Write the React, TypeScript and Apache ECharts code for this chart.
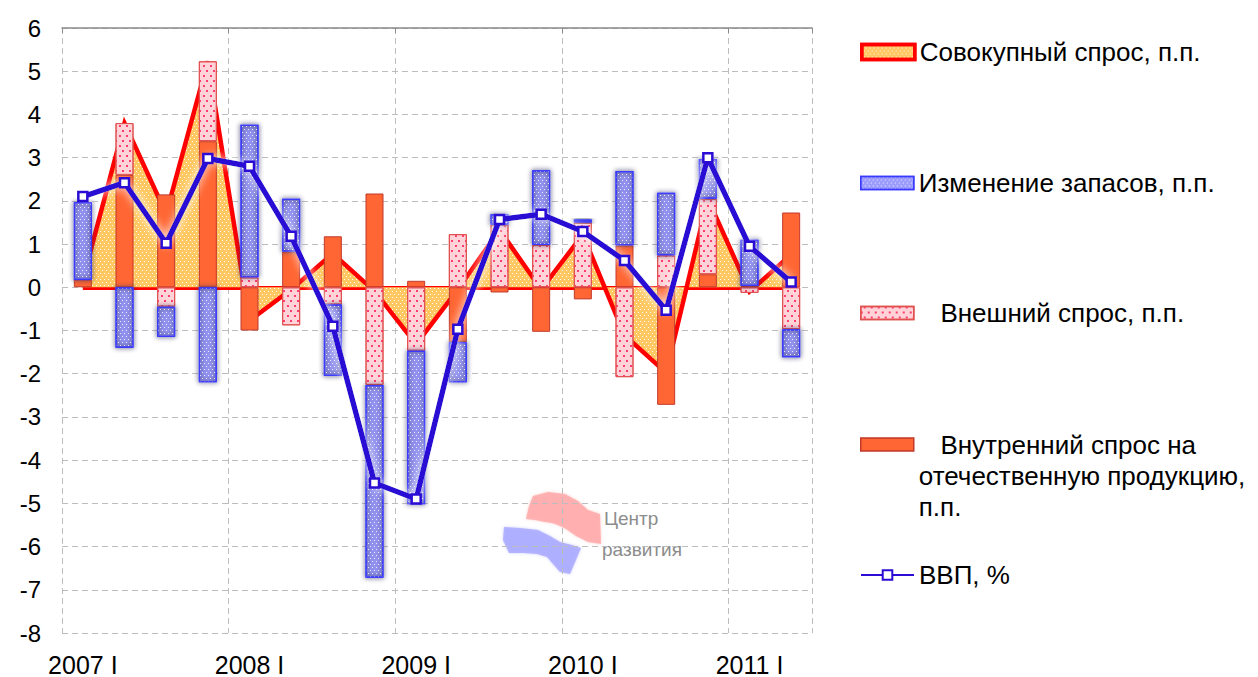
import React, { useEffect, useRef } from 'react';
import * as echarts from 'echarts';

const categories = [
  '2007 I', '2007 II', '2007 III', '2007 IV',
  '2008 I', '2008 II', '2008 III', '2008 IV',
  '2009 I', '2009 II', '2009 III', '2009 IV',
  '2010 I', '2010 II', '2010 III', '2010 IV',
  '2011 I', '2011 II',
];

const aggregateDemand = [0.17, 3.8, 1.7, 5.23, -0.77, -0.05, 0.78, -0.09, -1.32, -0.05, 1.33, -0.05, 1.22, -1.11, -1.98, 2.05, -0.1, 0.76];
const domesticDemand = [0.17, 2.6, 2.15, 3.38, -1.0, 0.83, 1.18, 2.17, 0.15, -1.27, -0.12, -1.03, -0.28, 0.97, -2.72, 0.3, 0.03, 1.73];
const externalDemand = [0, 1.2, -0.45, 1.85, 0.23, -0.88, -0.4, -2.26, -1.47, 1.23, 1.45, 0.98, 1.5, -2.08, 0.74, 1.75, -0.13, -0.97];
const inventoryChange = [1.8, -1.4, -0.7, -2.2, 3.53, 1.22, -1.65, -4.46, -3.55, -0.93, 0.24, 1.73, 0.07, 1.72, 1.45, 0.92, 1.07, -0.65];
const gdp = [2.1, 2.42, 1.02, 2.98, 2.8, 1.18, -0.9, -4.53, -4.9, -0.97, 1.57, 1.69, 1.29, 0.62, -0.53, 3.0, 0.95, 0.12];

const yTicks = { min: -8, max: 6, interval: 1 };

const S_AGG = 'Совокупный спрос, п.п.';
const S_INV = 'Изменение запасов, п.п.';
const S_EXT = 'Внешний спрос, п.п.';
const S_DOM = 'Внутренний спрос на отечественную продукцию, п.п.';
const S_GDP = 'ВВП, %';

const FONT = '"Liberation Sans", Arial, sans-serif';

const areaDecal = {
  symbol: 'rect',
  symbolSize: 1,
  color: 'rgba(255,255,255,0.9)',
  dashArrayX: [[1, 3], [0, 2, 1, 1]],
  dashArrayY: [1, 2],
};
const blueDecal = {
  symbol: 'rect',
  symbolSize: 1,
  color: 'rgba(255,255,255,0.8)',
  dashArrayX: [[1, 3], [0, 2, 1, 1]],
  dashArrayY: [1, 2],
};
const pinkDecal = {
  symbol: 'rect',
  symbolSize: 1,
  color: '#FF3D6E',
  dashArrayX: [[1.2, 4.5], [0, 2.8, 1.2, 1.7]],
  dashArrayY: [1.2, 3],
};

const AREA_FILL = '#FFC862';
const BLUE_FILL = '#9C9CFF';
const BLUE_BORDER = '#3A3AFF';
const PINK_FILL = '#FFD3D8';
const PINK_BORDER = '#E0504F';
const ORANGE_FILL = '#FF6633';
const ORANGE_BORDER = '#C0392B';
const GDP_COLOR = '#2A0CD4';

export default function App() {
  const ref = useRef<HTMLDivElement>(null);

  useEffect(() => {
    if (!ref.current) return;
    const chart = echarts.init(ref.current, null, { renderer: 'svg' });

    const legendBase = {
      left: 860,
      orient: 'vertical',
      padding: 0,
      itemWidth: 53,
      itemHeight: 14,
      selectedMode: false,
      textStyle: { fontSize: 26, color: '#000', fontFamily: FONT, lineHeight: 32 },
    };

    const option: any = {
      animation: false,
      backgroundColor: '#fff',
      grid: { left: 62, right: 446, top: 28, bottom: 44 },
      legend: [
        {
          ...legendBase,
          top: 36,
          data: [S_AGG],
          icon: 'rect',
          itemHeight: 15,
          itemStyle: { color: AREA_FILL, borderColor: '#FF0000', borderWidth: 3.5 },
        },
        {
          ...legendBase,
          top: 167,
          data: [S_INV],
          icon: 'rect',
          itemHeight: 13,
          itemStyle: { color: BLUE_FILL, borderColor: BLUE_BORDER, borderWidth: 1.5 },
        },
        {
          ...legendBase,
          top: 297,
          data: [S_EXT],
          icon: 'rect',
          itemHeight: 13,
          formatter: (n: string) => '   ' + n,
          itemStyle: { color: PINK_FILL, borderColor: PINK_BORDER, borderWidth: 1.5 },
        },
        {
          ...legendBase,
          top: 367,
          data: [S_DOM],
          icon: 'rect',
          itemHeight: 13,
          formatter: () => '\n\n   Внутренний спрос на\nотечественную продукцию,\nп.п.',
          textStyle: { ...legendBase.textStyle, lineHeight: 31 },
          itemStyle: { color: ORANGE_FILL, borderColor: ORANGE_BORDER, borderWidth: 1.5 },
        },
        {
          ...legendBase,
          top: 559,
          data: [S_GDP],
          itemHeight: 12,
        },
      ],
      xAxis: [
        {
          type: 'category',
          data: categories,
          position: 'bottom',
          boundaryGap: true,
          axisLine: { show: false },
          axisTick: { show: false },
          axisLabel: { interval: 3, fontSize: 25, color: '#000', fontFamily: FONT, margin: 19 },
          splitLine: { show: true, interval: 3, lineStyle: { type: [6, 4], color: '#BDBDBD', width: 1 } },
        },
        {
          type: 'category',
          data: categories,
          position: 'top',
          boundaryGap: true,
          axisLine: { show: true, onZero: true, lineStyle: { color: '#8A8A8A', width: 1.5 } },
          axisTick: { show: true, interval: 3, inside: true, length: 5, lineStyle: { color: '#8A8A8A' } },
          axisLabel: { show: false },
          splitLine: { show: false },
        },
      ],
      yAxis: {
        type: 'value',
        min: yTicks.min,
        max: yTicks.max,
        interval: yTicks.interval,
        axisLine: { show: false },
        axisTick: { show: false },
        axisLabel: { fontSize: 24, color: '#000', fontFamily: FONT, margin: 21 },
        splitLine: { show: true, lineStyle: { type: [6, 4], color: '#BDBDBD', width: 1 } },
      },
      series: [
        {
          name: S_AGG,
          type: 'line',
          data: aggregateDemand,
          xAxisIndex: 0,
          symbol: 'none',
          showSymbol: false,
          z: 1,
          lineStyle: { color: '#FF0000', width: 4.5, join: 'miter' },
          itemStyle: { color: AREA_FILL, decal: areaDecal },
          areaStyle: { color: AREA_FILL, opacity: 1 },
          markLine: {
            silent: true,
            z: 1,
            symbol: 'none',
            label: { show: false },
            lineStyle: { color: '#FF0000', width: 4, type: 'solid' },
            data: [[
              { coord: [categories[0], 0] },
              { coord: [categories[categories.length - 1], 0] },
            ]],
          },
        },
        {
          name: S_DOM,
          type: 'bar',
          stack: 'contrib',
          data: domesticDemand,
          barWidth: 18,
          z: 2,
          itemStyle: { color: ORANGE_FILL, borderColor: ORANGE_BORDER, borderWidth: 1 },
        },
        {
          name: S_EXT,
          type: 'bar',
          stack: 'contrib',
          data: externalDemand,
          barWidth: 18,
          z: 2,
          itemStyle: { color: PINK_FILL, borderColor: PINK_BORDER, borderWidth: 1, decal: pinkDecal },
        },
        {
          name: S_INV,
          type: 'bar',
          stack: 'contrib',
          data: inventoryChange,
          barWidth: 18,
          z: 2,
          itemStyle: {
            color: BLUE_FILL,
            borderColor: BLUE_BORDER,
            borderWidth: 1.2,
            decal: blueDecal,
            shadowColor: 'rgba(140,140,255,0.45)',
            shadowBlur: 5,
          },
        },
        {
          name: S_GDP,
          type: 'line',
          data: gdp,
          z: 3,
          symbol: 'rect',
          symbolSize: 9,
          showSymbol: true,
          lineStyle: { color: GDP_COLOR, width: 5.5, shadowColor: 'rgba(255,255,255,1)', shadowBlur: 10 },
          itemStyle: { color: '#FFFFFF', borderColor: GDP_COLOR, borderWidth: 2.5 },
        },
      ],
      graphic: [
        {
          type: 'polygon',
          silent: true,
          z: 0,
          shape: {
            points: [
              [533, 496], [548, 492], [565, 494], [578, 501], [588, 510], [600, 514],
              [601, 544], [588, 542], [576, 536], [566, 529], [558, 525], [552, 523],
              [545, 522], [535, 520], [526, 519], [529, 506],
            ],
          },
          style: { fill: '#FFA8A8', opacity: 0.8, shadowColor: 'rgba(255,150,150,0.6)', shadowBlur: 3 },
        },
        {
          type: 'polygon',
          silent: true,
          z: 0,
          shape: {
            points: [
              [504, 527], [520, 528], [538, 530], [550, 536], [560, 542], [572, 545],
              [581, 548], [576, 560], [570, 574], [560, 572], [553, 564], [547, 557],
              [537, 554], [524, 553], [509, 553], [503, 540],
            ],
          },
          style: { fill: '#A8A8FF', opacity: 0.8, shadowColor: 'rgba(150,150,255,0.6)', shadowBlur: 3 },
        },
        {
          type: 'text',
          silent: true,
          z: 0,
          left: 604,
          top: 509,
          style: { text: 'Центр', fontSize: 19, fill: '#8C8C8C', fontFamily: FONT },
        },
        {
          type: 'text',
          silent: true,
          z: 0,
          left: 602,
          top: 540,
          style: { text: 'развития', fontSize: 19, fill: '#8C8C8C', fontFamily: FONT },
        },
      ],
    };

    chart.setOption(option);
    return () => chart.dispose();
  }, []);

  return (
    <div
      ref={ref}
      style={{ position: 'fixed', left: 0, top: 0, width: 1258, height: 677 }}
    />
  );
}
